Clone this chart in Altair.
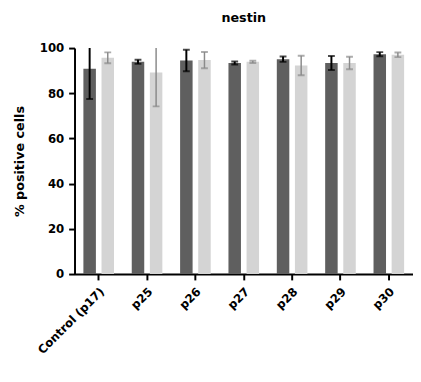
import altair as alt
import pandas as pd

categories = ["Control (p17)", "p25", "p26", "p27", "p28", "p29", "p30"]
series_names = ["A", "B"]
mean_a = [90.8, 93.9, 94.5, 93.4, 95.1, 93.4, 97.3]
sd_a = [13.3, 0.9, 4.8, 0.7, 1.2, 3.1, 0.9]
mean_b = [95.7, 89.2, 94.7, 93.9, 92.3, 93.4, 97.0]
sd_b = [2.4, 15.0, 3.6, 0.5, 4.3, 2.8, 1.0]

rows = []
for i, c in enumerate(categories):
    rows.append({"cat": c, "series": "A", "mean": mean_a[i], "lo": mean_a[i] - sd_a[i], "hi": mean_a[i] + sd_a[i]})
    rows.append({"cat": c, "series": "B", "mean": mean_b[i], "lo": mean_b[i] - sd_b[i], "hi": mean_b[i] + sd_b[i]})
df = pd.DataFrame(rows)

FONT = "DejaVu Sans"

x_enc = alt.X("cat:N", sort=categories, title=None,
              scale=alt.Scale(paddingInner=0, paddingOuter=0),
              axis=alt.Axis(labelAngle=-45, labelFont=FONT, labelFontWeight="bold",
                            labelFontSize=12, labelColor="black", labelPadding=6,
                            domainColor="black", domainWidth=2, tickColor="black",
                            tickWidth=2, tickSize=6))
xo_enc = alt.XOffset("series:N", sort=series_names,
                     scale=alt.Scale(paddingInner=0.31, paddingOuter=0.49))
y_scale = alt.Scale(domain=[0, 100], nice=False)

bars = alt.Chart(df).mark_bar().encode(
    x=x_enc,
    xOffset=xo_enc,
    y=alt.Y("mean:Q", scale=y_scale, title="% positive cells",
            axis=alt.Axis(values=[0, 20, 40, 60, 80, 100], grid=False,
                          labelFont=FONT, labelFontWeight="bold", labelFontSize=12,
                          labelColor="black", labelPadding=5,
                          titleFont=FONT, titleFontWeight="bold", titleFontSize=13,
                          titleColor="black", titlePadding=13,
                          domainColor="black", domainWidth=2, tickColor="black",
                          tickWidth=2, tickSize=6)),
    color=alt.Color("series:N", sort=series_names,
                    scale=alt.Scale(domain=series_names, range=["#5f5f5f", "#d4d4d4"]),
                    legend=None),
)

err_color = alt.condition(alt.datum.series == "A", alt.value("black"), alt.value("#8a8a8a"))
err_width = alt.condition(alt.datum.series == "A", alt.value(2), alt.value(1.5))

rules = alt.Chart(df).mark_rule(clip=True).encode(
    x=alt.X("cat:N", sort=categories),
    xOffset=alt.XOffset("series:N", sort=series_names),
    y=alt.Y("lo:Q", scale=y_scale),
    y2="hi:Q",
    color=err_color,
    strokeWidth=err_width,
)

cap_lo = alt.Chart(df).mark_tick(clip=True, size=7, thickness=2).encode(
    x=alt.X("cat:N", sort=categories),
    xOffset=alt.XOffset("series:N", sort=series_names),
    y=alt.Y("lo:Q", scale=y_scale),
    color=err_color,
)
cap_hi = alt.Chart(df).mark_tick(clip=True, size=7, thickness=2).encode(
    x=alt.X("cat:N", sort=categories),
    xOffset=alt.XOffset("series:N", sort=series_names),
    y=alt.Y("hi:Q", scale=y_scale),
    color=err_color,
)

chart = alt.layer(bars, rules, cap_lo, cap_hi).properties(
    width=346,
    height=231,
    title=alt.TitleParams("nestin", font=FONT, fontWeight="bold", fontSize=13,
                          color="black", offset=18),
    padding={"left": 5, "top": 0, "right": 0, "bottom": 5},
).configure_view(stroke=None)

chart.save("out.html", embed_options={"renderer": "svg", "actions": False})
